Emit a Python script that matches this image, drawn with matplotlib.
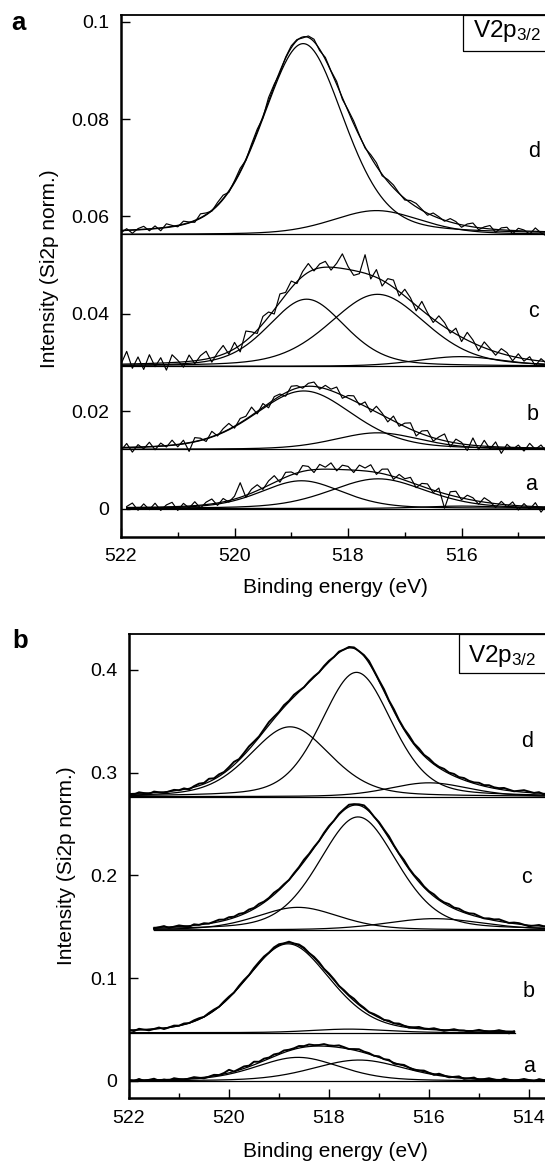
import numpy as np
import matplotlib
matplotlib.use('Agg')
import matplotlib.pyplot as plt
from matplotlib.patches import Rectangle

plt.rcParams['font.family'] = ['Liberation Sans', 'DejaVu Sans']
plt.rcParams['mathtext.fontset'] = 'custom'
plt.rcParams['mathtext.rm'] = 'Liberation Sans'
plt.rcParams['mathtext.it'] = 'Liberation Sans:italic'

W, H = 545, 1161
spec_names = ['a', 'b', 'c', 'd']

# ---------------- panel a (top) ----------------
top_xlim = (522.0, 514.53)
top_ylim = (-0.00575, 0.10144)
top_yticks = [0, 0.02, 0.04, 0.06, 0.08, 0.1]
top_yticklabels = ['0', '0.02', '0.04', '0.06', '0.08', '0.1']
top_xticks = [522, 520, 518, 516]
top_xminor = [521, 519, 517, 515]

# offset (baseline) of each spectrum a..d
top_base = [0.0, 0.01215, 0.0292, 0.0563]
# fitted components: position (eV), height, fwhm (eV)
top_pos = [[518.82, 517.47, 516.0], [518.78, 517.48], [518.73, 517.48, 516.02], [518.79, 517.50]]
top_amp = [[0.0057, 0.0061, 0.0005], [0.0120, 0.0034], [0.0138, 0.0148, 0.0020], [0.0392, 0.0049]]
top_fwhm = [[1.7, 2.0, 1.6], [2.05, 1.8], [1.6, 2.0, 1.8], [1.70, 1.85]]
# measured spectra: first energy, deviation from fit (1e-4) every 0.1 eV
top_start = [521.9, 522.0, 522.0, 522.0]
top_noise = [
    [2, 9, -6, 7, -5, 8, -7, 4, 9, -8,
     6, -4, 8, -6, 5, 10, -5, 7, -3, 6,
     30, -4, 8, 12, -3, 9, 14, -5, 10, 6,
     -4, 12, 8, -6, 10, 4, 13, -3, 9, 7,
     -5, 11, 6, 14, -4, 9, 12, -6, 8, 3,
     10, -7, 6, 9, -5, 8, -30, 7, 11, -4,
     8, 5, -6, 9, 3, -8, 6, -4, 7, -9,
     5, -6, 8, -11, 4, -7, 6],
    [-6, 8, -10, 5, -4, 9, -7, 6, -3, 10,
     -5, 7, -18, 8, 4, -6, 11, -3, 7, 12,
     -4, 9, 6, 17, -5, 8, -9, 6, 4, -7,
     8, 5, -3, 6, 9, -4, 7, 3, 12, -6,
     5, 10, -3, 9, -6, 12, 4, -8, 10, -5,
     7, 13, -9, 6, 11, -7, 5, 14, -10, 8,
     3, -12, 15, -8, 12, -5, 10, -13, 6, -4,
     5, -7, 9, -3, 6, -8, 5],
    [0, 26, -9, 14, -12, 18, -7, 11, -15, 16,
     4, -11, 13, -6, 9, 16, -9, 7, 18, -5,
     13, -14, 20, 8, -7, 15, 10, -9, 17, 5,
     14, -4, 10, 18, -3, 8, 12, -6, 9, 30,
     6, -10, -4, 38, -8, 16, -12, 10, 15, -9,
     14, 6, -11, 18, 4, -7, 15, 9, -5, 12,
     -9, 16, 6, -11, 12, 3, -7, 10, 5, -9,
     8, -5, 6, -11, 5, -4, 7],
    [-5, 3, -7, 2, 6, -4, 5, -6, 7, 2,
     -3, 6, 1, -4, 8, 3, -2, 5, 7, -3,
     2, 6, -2, 4, 5, -3, 7, 3, -4, 2,
     4, 2, -2, 3, 5, -3, 4, 1, 6, -3,
     3, 6, 2, -2, 5, 7, -3, 4, 6, 1,
     -3, 5, 7, 2, -4, 6, 3, -2, 7, 4,
     -5, 4, 8, -4, 3, 7, -6, 4, 6, -7,
     5, 2, -6, 7, -3, -9, 4],
]
top_end = [514.53, 514.53, 514.53, 514.53]

# ---------------- panel b (bottom) ----------------
bot_xlim = (522.0, 513.68)
bot_ylim = (-0.01684, 0.43474)
bot_yticks = [0, 0.1, 0.2, 0.3, 0.4]
bot_yticklabels = ['0', '0.1', '0.2', '0.3', '0.4']
bot_xticks = [522, 520, 518, 516, 514]
bot_xminor = [521, 519, 517, 515]

bot_base = [0.0, 0.047, 0.147, 0.2767]
bot_pos = [[518.62, 517.40], [518.82, 517.6], [518.62, 517.42, 515.89], [518.78, 517.45, 516.0]]
bot_amp = [[0.0230, 0.0204], [0.0865, 0.0035], [0.022, 0.110, 0.011], [0.068, 0.121, 0.0135]]
bot_fwhm = [[2.0, 2.2], [2.0, 1.8], [1.95, 1.85, 2.3], [1.9, 1.67, 1.9]]
# deviation from fit (1e-3) every 0.1 eV
bot_start = [522.0, 522.0, 521.5, 522.0]
bot_noise = [
    [0, -1, 1, -1, 0, 1, -1, 0, -1, 1,
     0, -1, 0, 1, 0, -1, 0, 1, 0, 1,
     3, 0, 1, 2, 1, 3, 1, 2, 1, 2,
     1, 2, 1, 1, 2, 1, 2, 1, 1, 2,
     1, 1, 2, 1, 0, 1, 2, 1, 1, 0,
     1, 0, 1, -1, 0, 1, 0, -1, 0, 1,
     0, -1, 1, 0, -1, 0, 1, -1, 0, 1,
     -1, 0, 1, 0, -1, 1, 0, -1, 0, 1,
     0, -1, 1, 0, 1],
    [0, -1, 1, 0, -1, 0, 1, -1, 0, 1,
     0, 1, 0, 1, 1, 0, 1, 1, 0, 1,
     1, 0, 1, 1, 0, 1, 1, 1, 0, 1,
     1, 0, 1, 0, 1, 1, 0, 1, 1, 0,
     1, 1, 0, 1, 1, 2, 1, 1, 0, 1,
     1, 0, 1, 0, 1, 0, -1, 0, 1, 0,
     0, 1, 0, -1, 0, 1, 0, 0, -1, 0,
     1, 0, -1, 0, 1, 0, -2, 0],
    [-1, 0, 1, -1, 0, 1, 0, -1, 1, 0,
     1, 0, 1, 2, 1, 2, 1, 2, 1, 2,
     1, 2, 1, 1, 2, 1, 1, 0, 1, 1,
     2, 1, 1, 0, 1, 1, 0, 1, 1, 2,
     1, 1, 2, 1, 0, 1, 1, 2, 1, 1,
     2, 1, 1, 2, 1, 1, 2, 1, 1, 2,
     1, 2, 1, 1, 2, 1, 0, 1, 1, 2,
     1, 0, 1, 1, 0, -1, 0, 1, 0, 1],
    [0, -1, 1, 0, -1, 1, 0, -1, 0, 1,
     0, 1, -1, 1, 2, 1, 3, 1, 2, 1,
     2, 3, 1, 2, 3, 2, 1, 2, 3, 2,
     1, 2, 1, 2, 1, 0, 1, 1, 0, 1,
     1, 0, 1, 0, 1, 1, 0, 1, 2, 1,
     1, 2, 1, 2, 1, 1, 2, 1, 2, 1,
     2, 1, 1, 2, 1, 2, 1, 2, 1, 1,
     2, 1, 2, 1, 1, 2, 1, 0, 1, 2,
     1, 0, 1, -1, 0],
]
bot_end = [513.68, 514.29, 513.68, 513.68]


def pv(e, pos, amp, fwhm, eta=0.3):
    # pseudo-Voigt peak shape used by the fit
    u = (np.asarray(e) - pos) / fwhm
    return amp * (eta / (1 + 4 * u**2) + (1 - eta) * np.exp(-4 * np.log(2) * u**2))


def draw_panel(ax, base, pos, amp, fwhm, start, noise, scale, end, data_lw):
    for i in range(len(base)):
        e_fit = np.linspace(start[i], end[i], 600)
        # baseline
        ax.plot([start[i], end[i]], [base[i], base[i]], color='k', lw=0.9)
        env = np.full_like(e_fit, base[i])
        for p, a, w in zip(pos[i], amp[i], fwhm[i]):
            comp = pv(e_fit, p, a, w)
            ax.plot(e_fit, base[i] + comp, color='k', lw=0.9)
            env = env + comp
        ax.plot(e_fit, env, color='k', lw=0.9)
        # measured data
        e_d = start[i] - 0.1 * np.arange(len(noise[i]))
        y_d = base[i] + sum(pv(e_d, p, a, w) for p, a, w in zip(pos[i], amp[i], fwhm[i]))
        y_d = y_d + np.array(noise[i]) * scale
        ax.plot(e_d, y_d, color='k', lw=data_lw)


def style_axes(ax, xlim, ylim, xticks, xminor, yticks, yticklabels):
    ax.set_xlim(xlim)
    ax.set_ylim(ylim)
    ax.set_xticks(xticks)
    ax.set_xticklabels([str(t) for t in xticks])
    ax.set_xticks(xminor, minor=True)
    ax.set_yticks(yticks)
    ax.set_yticklabels(yticklabels)
    ax.tick_params(axis='both', which='both', direction='in', labelsize=14, pad=8.3, width=1)
    ax.tick_params(axis='x', which='major', length=6.7)
    ax.tick_params(axis='x', which='minor', length=3.8)
    ax.tick_params(axis='y', which='major', length=6.7)
    ax.spines['right'].set_visible(False)
    ax.spines['left'].set_linewidth(1.8)
    ax.spines['bottom'].set_linewidth(1.8)
    ax.spines['top'].set_linewidth(1.3)


fig = plt.figure(figsize=(W / 100, H / 100), dpi=100)


def ptext(x, y, s, **kw):
    # place text using pixel coordinates of the picture
    return fig.text(x / W, 1 - y / H, s, **kw)


def pbox(x0, y0, x1, y1):
    r = Rectangle((x0 / W, 1 - y1 / H), (x1 - x0) / W, (y1 - y0) / H,
                  transform=fig.transFigure, fill=False, ec='k', lw=0.9, clip_on=False)
    fig.patches.append(r)


# top axes, pixels: left 121, top 14.7, bottom 536.5
ax1 = fig.add_axes([121 / W, 1 - 536.5 / H, (W - 121) / W, (536.5 - 14.7) / H])
draw_panel(ax1, top_base, top_pos, top_amp, top_fwhm, top_start, top_noise, 1e-4, top_end, 0.85)
style_axes(ax1, top_xlim, top_ylim, top_xticks, top_xminor, top_yticks, top_yticklabels)

# bottom axes, pixels: left 129, top 634.3, bottom 1098.3
ax2 = fig.add_axes([129 / W, 1 - 1098.3 / H, (W - 129) / W, (1098.3 - 634.3) / H])
draw_panel(ax2, bot_base, bot_pos, bot_amp, bot_fwhm, bot_start, bot_noise, 1e-3, bot_end, 1.4)
style_axes(ax2, bot_xlim, bot_ylim, bot_xticks, bot_xminor, bot_yticks, bot_yticklabels)

# axis labels
ptext(243.3, 593.0, 'Binding energy (eV)', fontsize=15, va='baseline', ha='left')
ptext(243.3, 1157.0, 'Binding energy (eV)', fontsize=15, va='baseline', ha='left')
ptext(49.5, 269, 'Intensity (Si2p norm.)', fontsize=15, rotation=90, va='center', ha='center')
ptext(66, 866, 'Intensity (Si2p norm.)', fontsize=15, rotation=90, va='center', ha='center')

# panel letters
ptext(11.7, 30, 'a', fontsize=18.5, fontweight='bold', va='baseline')
ptext(12.2, 648.3, 'b', fontsize=18.5, fontweight='bold', va='baseline')

# V2p3/2 boxes (cut by the right edge like the original)
pbox(463.3, 14.7, 600, 51)
ptext(473.3, 37.3, r'V2p$_{\mathrm{3/2}}$', fontsize=17.5, va='baseline')
pbox(458.8, 634.3, 600, 672.7)
ptext(467.5, 661.7, r'V2p$_{\mathrm{3/2}}$', fontsize=17.5, va='baseline')

# spectrum labels
top_lab_xy = [(525, 490), (526.7, 420), (528.3, 317.3), (528, 156.7)]
bot_lab_xy = [(523, 1071.7), (523, 996.7), (521.4, 883.3), (521.4, 746.7)]
for s, (x, y) in zip(spec_names, top_lab_xy):
    ptext(x, y, s, fontsize=15.5, va='baseline')
for s, (x, y) in zip(spec_names, bot_lab_xy):
    ptext(x, y, s, fontsize=15.5, va='baseline')

fig.savefig('out.png', dpi=100)
